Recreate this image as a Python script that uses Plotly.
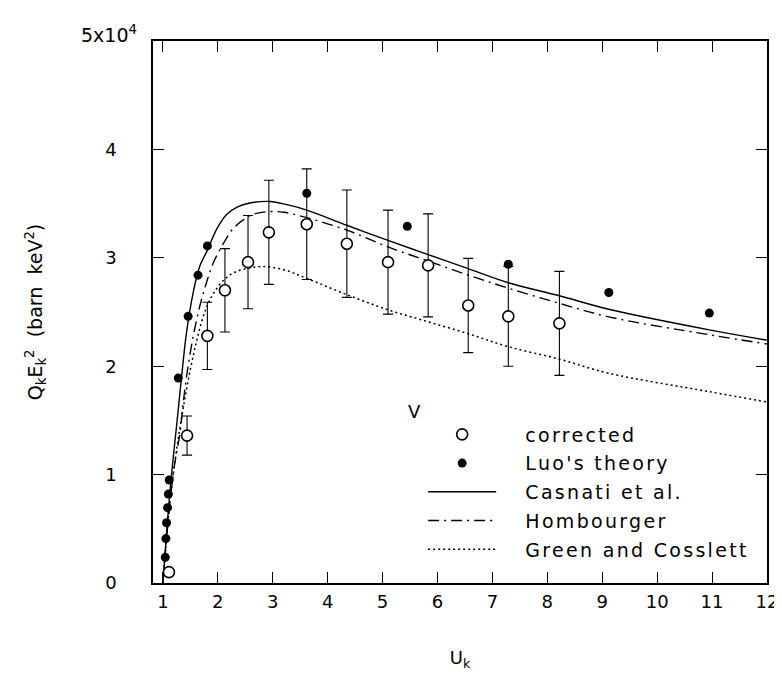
import plotly.graph_objects as go

# ---- data (y in units of 10^4 barn keV^2) ----
corr_x = [1.11, 1.44, 1.81, 2.13, 2.55, 2.93, 3.62, 4.35, 5.10, 5.83, 6.56, 7.29, 8.22]
corr_y = [0.10, 1.36, 2.28, 2.70, 2.96, 3.235, 3.31, 3.13, 2.96, 2.93, 2.56, 2.46, 2.395]
corr_err = [0.0, 0.18, 0.31, 0.385, 0.43, 0.48, 0.51, 0.495, 0.48, 0.475, 0.435, 0.46, 0.48]

luo_x = [1.043, 1.055, 1.067, 1.085, 1.10, 1.115, 1.28, 1.46, 1.64, 1.81, 3.62, 5.45, 7.29, 9.12, 10.95]
luo_y = [0.237, 0.41, 0.556, 0.695, 0.82, 0.95, 1.89, 2.46, 2.84, 3.11, 3.595, 3.29, 2.94, 2.68, 2.49]

cas_x = [1.0, 1.08, 1.157, 1.26, 1.34, 1.43, 1.55, 1.67, 1.82, 1.975, 2.16, 2.36, 2.58, 2.95, 3.26, 3.62,
         4.35, 5.10, 5.83, 6.56, 7.29, 8.22, 9.12, 10.95, 12.0]
cas_y = [0.0, 0.55, 1.0, 1.50, 1.90, 2.31, 2.675, 2.92, 3.08, 3.26, 3.40, 3.47, 3.505, 3.52, 3.49, 3.44,
         3.30, 3.16, 3.03, 2.90, 2.77, 2.65, 2.525, 2.335, 2.24]

hom_x = [1.0, 1.1, 1.2, 1.31, 1.37, 1.44, 1.55, 1.67, 1.79, 1.915, 2.10, 2.28, 2.52, 2.64, 2.90,
         3.20, 3.62, 4.35, 5.10, 5.83, 6.56, 7.29, 8.22, 9.12, 10.95, 12.0]
hom_y = [0.0, 0.60, 1.05, 1.38, 1.66, 1.935, 2.27, 2.55, 2.765, 2.95, 3.13, 3.27, 3.37, 3.40, 3.425,
         3.42, 3.37, 3.255, 3.10, 2.97, 2.84, 2.72, 2.58, 2.455, 2.29, 2.205]

gc_x = [1.0, 1.1, 1.2, 1.3, 1.4, 1.5, 1.6, 1.7, 1.8, 1.92, 2.10, 2.28, 2.52, 2.82, 3.20, 3.62,
        4.35, 5.10, 5.83, 6.56, 7.29, 8.22, 9.12, 10.95, 12.0]
gc_y = [0.0, 0.60, 1.05, 1.40, 1.70, 1.97, 2.20, 2.40, 2.55, 2.67, 2.79, 2.86, 2.90, 2.92, 2.89, 2.81,
        2.66, 2.52, 2.41, 2.30, 2.18, 2.065, 1.935, 1.765, 1.67]

x_ticks = list(range(1, 13))
y_ticks = [0, 1, 2, 3, 4, 5]
y_ticktext = ["0", "1", "2", "3", "4", ""]

FONT = "DejaVu Sans"


def leg(name):
    return "&nbsp;&nbsp;&nbsp;&nbsp;<span style='letter-spacing:2.3px'>" + name + "</span>"


fig = go.Figure()

fig.add_trace(go.Scatter(x=cas_x, y=cas_y, mode="lines", name=leg("Casnati et al."),
                         line=dict(color="black", width=1.4, shape="spline", smoothing=1.0),
                         legendgroup="c", legendrank=3))
fig.add_trace(go.Scatter(x=hom_x, y=hom_y, mode="lines", name=leg("Hombourger"),
                         line=dict(color="black", width=1.4, dash="11px,5px,2px,5px",
                                   shape="spline", smoothing=1.0),
                         legendgroup="h", legendrank=4))
fig.add_trace(go.Scatter(x=gc_x, y=gc_y, mode="lines", name=leg("Green and Cosslett"),
                         line=dict(color="black", width=1.5, dash="2px,3px",
                                   shape="spline", smoothing=1.0),
                         legendgroup="g", legendrank=5))
fig.add_trace(go.Scatter(x=corr_x, y=corr_y, mode="markers", name=leg("corrected"),
                         error_y=dict(type="data", array=corr_err, visible=True,
                                      color="black", thickness=1.1, width=5),
                         marker=dict(symbol="circle", size=11, color="white",
                                     line=dict(color="black", width=1.6)),
                         legendgroup="o", legendrank=1))
fig.add_trace(go.Scatter(x=luo_x, y=luo_y, mode="markers", name=leg("Luo's theory"),
                         marker=dict(symbol="circle", size=9, color="black"),
                         legendgroup="l", legendrank=2))

axis_common = dict(showline=True, linecolor="black", linewidth=1.5, mirror="ticks",
                   ticks="inside", ticklen=11, tickwidth=1.3, tickcolor="black",
                   showgrid=False, zeroline=False, automargin=False,
                   ticklabeloverflow="allow",
                   tickfont=dict(family=FONT, size=18, color="black"))

fig.update_xaxes(range=[0.82, 12.0005], tickvals=x_ticks, ticktext=[str(v) for v in x_ticks],
                 ticklabelstandoff=2,
                 title=dict(text="U<sub>k</sub>", font=dict(family=FONT, size=18, color="black"),
                            standoff=40),
                 **axis_common)
fig.update_yaxes(range=[0, 5], tickvals=y_ticks, ticktext=y_ticktext,
                 ticklabelstandoff=31,
                 title=dict(text="Q<sub>k</sub>E<sub>k</sub><sup>2</sup>  (barn  keV<sup>2</sup>)",
                            font=dict(family=FONT, size=19, color="black"), standoff=58),
                 **axis_common)

fig.add_annotation(x=5.58, y=1.58, xref="x", yref="y", text="V", showarrow=False,
                   font=dict(family=FONT, size=18, color="black"))
fig.add_annotation(x=-0.12, y=1.012, xref="paper", yref="paper", xanchor="left",
                   yanchor="middle", text="5x10<sup>4</sup>", showarrow=False,
                   font=dict(family=FONT, size=19, color="black"))

# page body has an 8px default margin (figure starts at 8,8)
fig.update_layout(
    width=774, height=678,
    margin=dict(l=145, r=15, t=33, b=103),
    plot_bgcolor="white", paper_bgcolor="white",
    font=dict(family=FONT, size=18, color="black"),
    showlegend=True,
    legend=dict(x=0.44, y=0.309, xanchor="left", yanchor="top",
                bgcolor="rgba(0,0,0,0)", borderwidth=0,
                itemwidth=68, tracegroupgap=1, traceorder="grouped",
                font=dict(family=FONT, size=19, color="black")),
)

fig.write_html("out.html")
